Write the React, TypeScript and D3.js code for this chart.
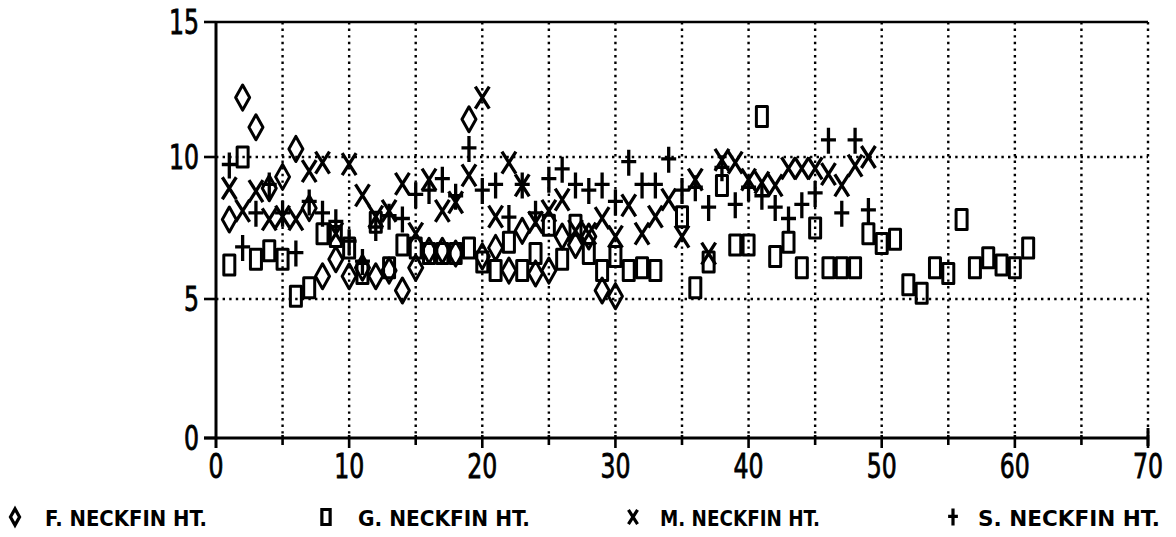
import React from "react";
import * as d3 from "d3";

// sample index runs 1..n for each series
const fVals = [7.8, 12.2, 11.1, 8.9, 9.3, 10.3, 8.2, 5.8, 6.4, 5.8, 6.1, 5.8, 6.0, 5.3, 6.1, 6.7, 6.7, 6.6, 11.4, 6.5,
  6.8, 6.0, 7.4, 5.9, 6.0, 7.2, 6.9, 7.2, 5.3, 5.1];
const gVals = [6.2, 10.0, 6.4, 6.7, 6.4, 5.1, 5.4, 7.3, 7.2, 6.8, 5.9, 7.7, 6.1, 6.9, 6.8, 6.6, 6.6, 6.6, 6.8, 6.3,
  6.0, 7.0, 6.0, 6.6, 7.6, 6.4, 7.6, 6.6, 6.0, 6.5, 6.0, 6.1, 6.0, null, 7.9, 5.4, 6.3, 9.0, 6.9, 6.9,
  11.5, 6.5, 7.0, 6.1, 7.5, 6.1, 6.1, 6.1, 7.3, 6.95, 7.1, 5.5, 5.2, 6.1, 5.9, 7.8, 6.1, 6.45, 6.2, 6.1, 6.8];
const mVals = [8.9, 8.1, 8.8, 7.8, 7.9, 7.8, 9.5, 9.8, 7.3, 9.75, 8.65, 7.9, 8.1, 9.05, 7.3, 9.2, 8.1, 8.4, 9.35, 12.2,
  7.9, 9.8, 9.0, 7.7, 8.1, 8.5, 7.4, 7.3, 7.85, 7.2, 8.3, 7.3, 7.9, 8.5, 7.2, 9.2, 6.6, 9.9, 9.8, 9.2,
  9.1, 9.0, 9.6, 9.6, 9.6, 9.4, 9.0, 9.7, 10.0];
const sVals = [9.7, 6.8, 8.0, 9.0, 8.0, 6.6, 8.4, 8.0, 7.7, 7.0, 6.3, 7.5, 7.9, 7.8, 8.65, 8.8, 9.2, 8.6, 10.3, 8.8,
  9.0, 7.85, 9.0, 8.0, 9.2, 9.55, 9.0, 8.8, 9.0, 8.4, 9.8, 9.0, 9.0, 9.9, 8.8, 8.9, 8.2, 9.6, 8.3, 8.9,
  8.6, 8.2, 7.8, 8.3, 8.7, 10.6, 8.0, 10.6, 8.1];

const xTicks = [0, 10, 20, 30, 40, 50, 60, 70];
const xGrid = [5, 10, 15, 20, 25, 30, 35, 40, 45, 50, 55, 60, 65, 70];
const yTicks = [0, 5, 10, 15];
const legendLabels = ["F. NECKFIN HT.", "G. NECKFIN HT.", "M. NECKFIN HT.", "S. NECKFIN HT."];

const W = 1176;
const H = 537;

// marker shapes, centred on 0,0
const diamond = (s = 1) => `M0,${-12.5 * s}L${7 * s},0L0,${12.5 * s}L${-7 * s},0Z`;
const box = (s = 1) => `M${-5.5 * s},${-10 * s}H${5.5 * s}V${10 * s}H${-5.5 * s}Z`;
const cross = (s = 1) => `M${-7 * s},${-11 * s}L${7 * s},${11 * s}M${7 * s},${-11 * s}L${-7 * s},${11 * s}`;
const plus = (s = 1) => `M0,${-13 * s}V${13 * s}M${-7.5 * s},${-1 * s}H${7.5 * s}`;

const series = [
  { vals: fVals, shape: diamond, sw: 3 },
  { vals: gVals, shape: box, sw: 3 },
  { vals: mVals, shape: cross, sw: 3.3 },
  { vals: sVals, shape: plus, sw: 3.3 },
];

export default function App() {
  const x = d3.scaleLinear().domain([0, 70]).range([216, 1148]);
  // the plotted axis is slightly uneven, so use a piecewise scale
  const y = d3.scaleLinear().domain([0, 5, 10, 15]).range([438, 299, 157, 22]);

  const tickFont = "'DejaVu Sans Condensed', 'DejaVu Sans', sans-serif";
  const legFont = "'DejaVu Sans Condensed', 'DejaVu Sans', sans-serif";

  const legendPos = [
    { mx: 15, tx: 45, w: 162 },
    { mx: 326, tx: 358, w: 172 },
    { mx: 633, tx: 660, w: 160 },
    { mx: 953, tx: 978, w: 182 },
  ];

  return (
    <svg width={W} height={H} style={{ position: "absolute", left: 0, top: 0, background: "#fff" }}>
      {/* grid */}
      {xGrid.map((t) => (
        <line key={"vg" + t} x1={x(t)} x2={x(t)} y1={y(15)} y2={y(0)}
          stroke="#000" strokeWidth={2.4} strokeDasharray="2.4 4.2" />
      ))}
      {[5, 10].map((t) => (
        <line key={"hg" + t} x1={x(0)} x2={x(70)} y1={y(t)} y2={y(t)}
          stroke="#000" strokeWidth={2.4} strokeDasharray="2.4 4.2" />
      ))}

      {/* axes */}
      <line x1={x(0)} x2={x(70)} y1={y(15)} y2={y(15)} stroke="#000" strokeWidth={2.5} />
      <line x1={x(0)} x2={x(0)} y1={y(15)} y2={y(0) + 10} stroke="#000" strokeWidth={3} />
      <line x1={x(0) - 12} x2={x(70)} y1={y(0)} y2={y(0)} stroke="#000" strokeWidth={3} />
      <line x1={x(70)} x2={x(70)} y1={y(0) - 10} y2={y(0) + 8} stroke="#000" strokeWidth={3} />
      {xGrid.map((t) => (
        <line key={"xt" + t} x1={x(t)} x2={x(t)} y1={y(0) - 3} y2={y(0) + (t % 10 === 0 ? 10 : 7)}
          stroke="#000" strokeWidth={2.6} />
      ))}
      {yTicks.map((t) => (
        <line key={"yt" + t} x1={x(0) - 12} x2={x(0)} y1={y(t)} y2={y(t)} stroke="#000" strokeWidth={2.6} />
      ))}

      {/* tick labels */}
      {xTicks.map((t) => (
        <text key={"xl" + t} x={x(t) - 7.5 * String(t).length} y={y(0) + 40} fontFamily={tickFont}
          fontSize={34} textLength={15 * String(t).length} lengthAdjust="spacingAndGlyphs"
          fill="#000" stroke="#000" strokeWidth={0.8}>{t}</text>
      ))}
      {yTicks.map((t) => (
        <text key={"yl" + t} x={x(0) - 17 - 15 * String(t).length} y={y(t) + 12} fontFamily={tickFont}
          fontSize={34} textLength={15 * String(t).length} lengthAdjust="spacingAndGlyphs"
          fill="#000" stroke="#000" strokeWidth={0.8}>{t}</text>
      ))}

      {/* points */}
      {series.map((s, si) => (
        <g key={"s" + si} fill="none" stroke="#000" strokeWidth={s.sw} strokeLinejoin="round">
          {s.vals.map((v, i) =>
            v == null ? null : (
              <path key={i} d={s.shape()} transform={`translate(${x(i + 1)},${y(v)})`} />
            )
          )}
        </g>
      ))}

      {/* legend */}
      {legendPos.map((p, i) => (
        <g key={"lg" + i}>
          <path d={series[i].shape(i === 1 ? 0.75 : 0.65)} transform={`translate(${p.mx},517)`} fill="none"
            stroke="#000" strokeWidth={3.2} />
          <text x={p.tx} y={526} fontFamily={legFont} fontWeight="bold" fontSize={21}
            textLength={p.w} lengthAdjust="spacingAndGlyphs" fill="#000">{legendLabels[i]}</text>
        </g>
      ))}
    </svg>
  );
}
